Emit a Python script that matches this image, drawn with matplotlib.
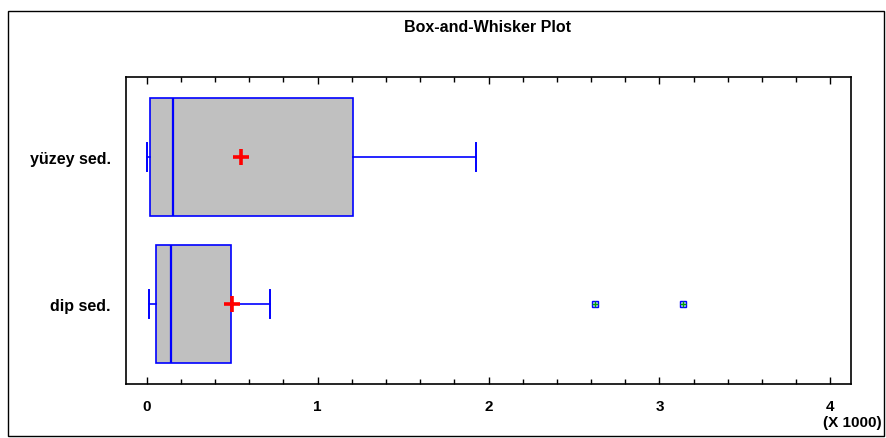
import matplotlib
matplotlib.use('Agg')
import matplotlib.pyplot as plt
from matplotlib.ticker import MultipleLocator, FuncFormatter
from matplotlib.patches import Rectangle

plt.rcParams['font.family'] = ['Liberation Sans', 'DejaVu Sans']

groups = ['dip sed.', 'yüzey sed.']
mins = [13, 3]
q1s = [56, 20]
medians = [141, 153]
q3s = [492, 1208]
maxs = [720, 1925]
means = [498, 555]
outliers = [[2625, 3139], []]

fig = plt.figure(figsize=(8.86, 4.39), dpi=100)
fig.patches.append(Rectangle((8 / 886, 2 / 439), 876 / 886, 425 / 439,
                             transform=fig.transFigure, fill=False,
                             edgecolor='black', linewidth=1.0))
ax = fig.add_axes([126 / 886, 54 / 439, 725 / 886, 307 / 439])

stats = []
for i in range(len(groups)):
    stats.append({'label': groups[i], 'whislo': mins[i], 'q1': q1s[i],
                  'med': medians[i], 'q3': q3s[i], 'whishi': maxs[i],
                  'mean': means[i], 'fliers': outliers[i]})

blue = '#0000FF'
ax.bxp(stats, positions=[1, 2], widths=0.8, capwidths=0.19, vert=False,
       patch_artist=True, showmeans=True, showfliers=True,
       boxprops=dict(facecolor='#C0C0C0', edgecolor=blue, linewidth=1.2),
       medianprops=dict(color=blue, linewidth=1.6),
       whiskerprops=dict(color=blue, linewidth=1.2),
       capprops=dict(color=blue, linewidth=1.4),
       meanprops=dict(marker='+', markeredgecolor='red', markersize=11,
                      markeredgewidth=2.6),
       flierprops=dict(marker='s', markeredgecolor=blue, markerfacecolor='#C8D8FF',
                       markersize=5, markeredgewidth=1.0))

# green cross inside outlier squares
for i in range(len(groups)):
    if outliers[i]:
        ax.plot(outliers[i], [i + 1] * len(outliers[i]), linestyle='none',
                marker='+', color='#00A000', markersize=4, markeredgewidth=1.0)

ax.set_xlim(-120, 4120)
ax.set_ylim(0.455, 2.545)
ax.set_yticks([1, 2])
ax.set_yticklabels(groups, fontsize=11.5, fontweight='bold')
ax.tick_params(axis='y', length=0, pad=11)

ax.xaxis.set_major_locator(MultipleLocator(1000))
ax.xaxis.set_minor_locator(MultipleLocator(200))
ax.xaxis.set_major_formatter(FuncFormatter(lambda v, p: '%d' % round(v / 1000)))
ax.tick_params(axis='x', which='both', direction='in', top=True, bottom=True,
               labelsize=11, pad=11)
ax.tick_params(axis='x', which='major', length=5, width=1)
ax.tick_params(axis='x', which='minor', length=3.5, width=1)
for lbl in ax.get_xticklabels():
    lbl.set_fontweight('bold')
for s in ax.spines.values():
    s.set_linewidth(1.2)

fig.text(488 / 886, 1 - 27 / 439, 'Box-and-Whisker Plot', ha='center', va='center',
         fontsize=11.5, fontweight='bold')
fig.text(852 / 886, 1 - 423 / 439, '(X 1000)', ha='center', va='center',
         fontsize=11, fontweight='bold')

fig.savefig('out.png', dpi=100)
